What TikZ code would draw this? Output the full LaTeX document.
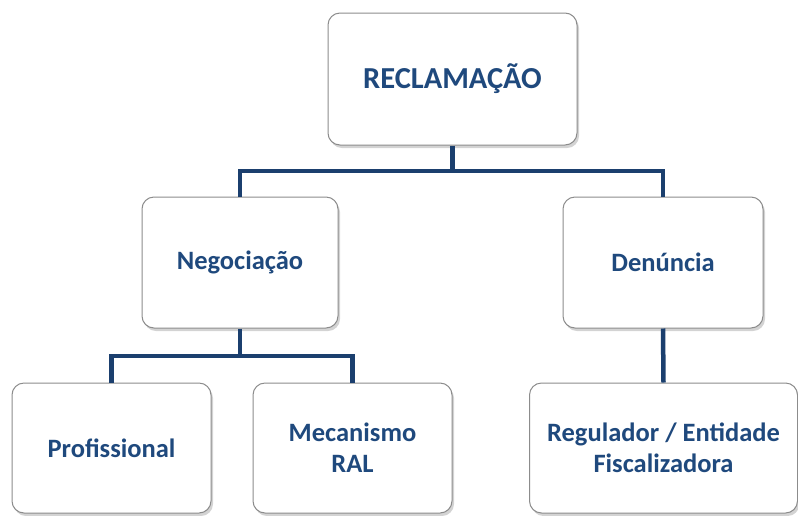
\documentclass[tikz,border=0pt]{standalone}
\usepackage{fontspec}
\setmainfont{Carlito}
\usetikzlibrary{shadows}
\definecolor{txtblue}{HTML}{1F497D}
\definecolor{lineblue}{HTML}{1B3F6E}
\definecolor{boxedge}{HTML}{8C8C8C}
\tikzset{
  box/.style={draw=boxedge, line width=1pt, fill=white, rounded corners=12pt,
    drop shadow={shadow xshift=2pt, shadow yshift=-3pt, opacity=0.35, fill=gray},
    align=center, text=txtblue, font=\bfseries\fontsize{26.5}{31}\selectfont, inner sep=0pt},
  link/.style={draw=lineblue, line width=4.5pt}
}
\begin{document}
\begin{tikzpicture}[x=1pt,y=-1pt]
\useasboundingbox (0,0) rectangle (798,515);
\node[box, minimum width=249pt, minimum height=132pt, font=\bfseries\fontsize{30.5}{36}\selectfont] (rec) at (452.5,79) {RECLAMAÇÃO};
\node[box, minimum width=196pt, minimum height=131pt] (neg) at (240,262.5) {Negociação};
\node[box, minimum width=200pt, minimum height=131pt] (den) at (663,262.5) {Denúncia};
\node[box, minimum width=199pt, minimum height=130pt] (pro) at (111.5,448) {Profissional};
\node[box, minimum width=199pt, minimum height=130pt] (mec) at (352.5,448) {Mecanismo\\RAL};
\node[box, minimum width=268pt, minimum height=130pt] (reg) at (663.5,448) {Regulador / Entidade\\Fiscalizadora};
\coordinate (bus1) at (452.5,171);
\coordinate (bus2) at (240,356);
\draw[link] (rec.south) -- (bus1);
\draw[link] (neg.north) |- (bus1) -| (den.north);
\draw[link] (neg.south) -- (bus2);
\draw[link] (pro.north) |- (bus2) -| (mec.north);
\draw[link] (den.south) -- (reg.north);
\end{tikzpicture}
\end{document}
